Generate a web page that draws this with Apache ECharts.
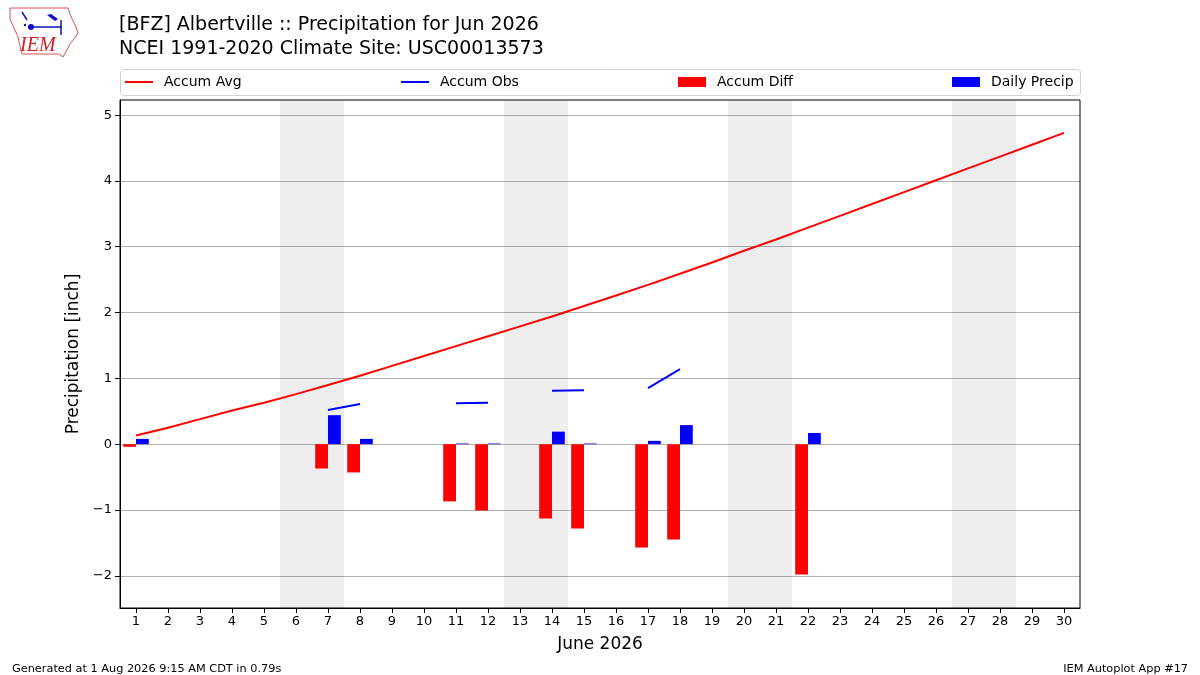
<!DOCTYPE html>
<html><head><meta charset="utf-8">
<script src="https://cdn.jsdelivr.net/npm/echarts@6/dist/echarts.min.js"></script>
<style>html,body{margin:0;padding:0;background:#fff}#c{width:1200px;height:675px}</style>
</head><body><div id="c"></div>
<script>
const days = ['1','2','3','4','5','6','7','8','9','10','11','12','13','14','15','16','17','18','19','20','21','22','23','24','25','26','27','28','29','30'];
const accumAvg = [0.13,0.25,0.38,0.51,0.63,0.76,0.90,1.04,1.19,1.34,1.49,1.64,1.79,1.94,2.10,2.26,2.42,2.59,2.76,2.94,3.11,3.29,3.47,3.65,3.83,4.01,4.19,4.37,4.55,4.73];
const accumObs = [0.08,null,null,null,null,null,0.52,0.61,null,null,0.62,0.63,null,0.81,0.82,null,0.85,1.14,null,null,null,1.31,null,null,null,null,null,null,null,null];
const accumDiff = [-0.04,null,null,null,null,null,-0.37,-0.43,null,null,-0.87,-1.01,null,-1.13,-1.28,null,-1.57,-1.45,null,null,null,-1.98,null,null,null,null,null,null,null,null];
const dailyPrecip = [0.08,null,null,null,null,null,0.44,0.08,null,null,0.01,0.01,null,0.19,0.01,null,0.05,0.29,null,null,null,0.17,null,null,null,null,null,null,null,null];
const weekendSpans = [[5.5,7.5],[12.5,14.5],[19.5,21.5],[26.5,28.5]];
const yTicks = [-2,-1,0,1,2,3,4,5];

const FONT = 'DejaVu Sans';
const chart = echarts.init(document.getElementById('c'), null, {renderer:'canvas'});
const legendBase = {orient:'horizontal', top:70, itemGap:0, selectedMode:false,
  textStyle:{fontFamily:FONT, fontSize:14, color:'#000', padding:[0,0,0,6]}};
const option = {
  animation:false,
  backgroundColor:'#fff',
  textStyle:{fontFamily:FONT},
  title:[
    {text:'[BFZ] Albertville :: Precipitation for Jun 2026\nNCEI 1991-2020 Climate Site: USC00013573',
     left:114, top:8, textStyle:{fontFamily:FONT, fontSize:19, fontWeight:'normal', color:'#000', lineHeight:24}},
    {text:'Generated at 1 Aug 2026 9:15 AM CDT in 0.79s', left:7, top:659,
     textStyle:{fontFamily:FONT, fontSize:11.3, fontWeight:'normal', color:'#000'}},
    {text:'IEM Autoplot App #17', right:7, top:659,
     textStyle:{fontFamily:FONT, fontSize:11.3, fontWeight:'normal', color:'#000'}}
  ],
  legend:[
    Object.assign({}, legendBase, {left:120, data:[{name:'Accum Avg', icon:'rect'}], itemWidth:28, itemHeight:2}),
    Object.assign({}, legendBase, {left:396, data:[{name:'Accum Obs', icon:'rect'}], itemWidth:28, itemHeight:2}),
    Object.assign({}, legendBase, {left:673, data:[{name:'Accum Diff', icon:'rect'}], itemWidth:28, itemHeight:10}),
    Object.assign({}, legendBase, {left:947, data:[{name:'Daily Precip', icon:'rect'}], itemWidth:28, itemHeight:10})
  ],
  grid:{left:120, right:120, top:100, bottom:67, containLabel:false},
  xAxis:[
    {type:'category', data:days, boundaryGap:true,
     name:'June 2026', nameLocation:'middle', nameGap:28,
     nameTextStyle:{fontFamily:FONT, fontSize:17, color:'#000'},
     axisLine:{show:true, onZero:false, lineStyle:{color:'#000', width:1}},
     axisTick:{show:true, alignWithLabel:true, length:5, lineStyle:{color:'#000'}},
     axisLabel:{fontFamily:FONT, fontSize:13, color:'#000', margin:7, interval:0},
     splitLine:{show:false}},
    {type:'value', min:0.5, max:30.5, show:false}
  ],
  yAxis:{type:'value', min:-2.49, max:5.23, minInterval:1, maxInterval:1, splitNumber:8,
    name:'Precipitation [inch]', nameLocation:'middle', nameGap:36,
    nameTextStyle:{fontFamily:FONT, fontSize:17, color:'#000'},
    axisLine:{show:true, onZero:false, lineStyle:{color:'#000', width:1}},
    axisTick:{show:true, length:5, lineStyle:{color:'#000'}, customValues:yTicks},
    axisLabel:{fontFamily:FONT, fontSize:13, color:'#000', margin:8, customValues:yTicks,
      formatter:v => (v<0 ? '\u2212'+Math.abs(v) : String(v))},
    splitLine:{show:true, lineStyle:{color:'#b0b0b0', width:1}}},
  series:[
    {name:'Accum Avg', type:'line', data:accumAvg, symbol:'none', z:4,
     lineStyle:{color:'#ff0000', width:2}, itemStyle:{color:'#ff0000'}},
    {name:'Accum Obs', type:'line', data:accumObs, symbol:'none', connectNulls:false, z:4,
     lineStyle:{color:'#0000ff', width:2}, itemStyle:{color:'#0000ff'}},
    {name:'Accum Diff', type:'bar', data:accumDiff, barWidth:'40%', barGap:'0%', z:3,
     itemStyle:{color:'#ff0000'}},
    {name:'Daily Precip', type:'bar', data:dailyPrecip, barWidth:'40%', barGap:'0%', z:3,
     itemStyle:{color:'#0000ff'}},
    {name:'weekend', type:'line', xAxisIndex:1, data:[], z:1, silent:true,
     markArea:{silent:true, itemStyle:{color:'rgba(0,0,0,0.067)'},
       data:weekendSpans.map(s => [{xAxis:s[0]},{xAxis:s[1]}])}}
  ],
  graphic:[
    {type:'rect', left:120, top:69, shape:{width:960, height:26, r:3}, z:-1,
     style:{fill:'#fff', stroke:'#d0d0d0', lineWidth:1}},
    {type:'rect', shape:{x:120, y:100, width:960, height:508}, z:100, silent:true,
     style:{fill:'none', stroke:'#000', lineWidth:1}},
    {type:'group', z:100, children:[
      {type:'polygon', shape:{points:[[10,8],[68,8],[70,14],[73,21],[76,27],[78,33],[74,39],[70,44],[67,50],[63,57],[59,54],[22,54],[20,46],[18,37],[14,28],[10,19]]},
       style:{fill:'none', stroke:'#e05050', lineWidth:1}},
      {type:'circle', shape:{cx:31, cy:27, r:3}, style:{fill:'#1010c0'}},
      {type:'line', shape:{x1:31, y1:27, x2:62, y2:27}, style:{stroke:'#1010c0', lineWidth:1.5}},
      {type:'polygon', shape:{points:[[47,15],[51,14],[58,19],[55,21]]}, style:{fill:'#1010c0'}},
      {type:'line', shape:{x1:61, y1:20, x2:61, y2:35}, style:{stroke:'#1010c0', lineWidth:1.5}},
      {type:'line', shape:{x1:22, y1:12, x2:27, y2:20}, style:{stroke:'#1010c0', lineWidth:1.5}},
      {type:'circle', shape:{cx:25, cy:25, r:1.2}, style:{fill:'#1010c0'}},
      {type:'text', style:{x:20, y:36, text:'IEM', fill:'#d02020', font:'italic 20px "Liberation Serif", serif'}}
    ]}
  ]
};
chart.setOption(option);
</script></body></html>
